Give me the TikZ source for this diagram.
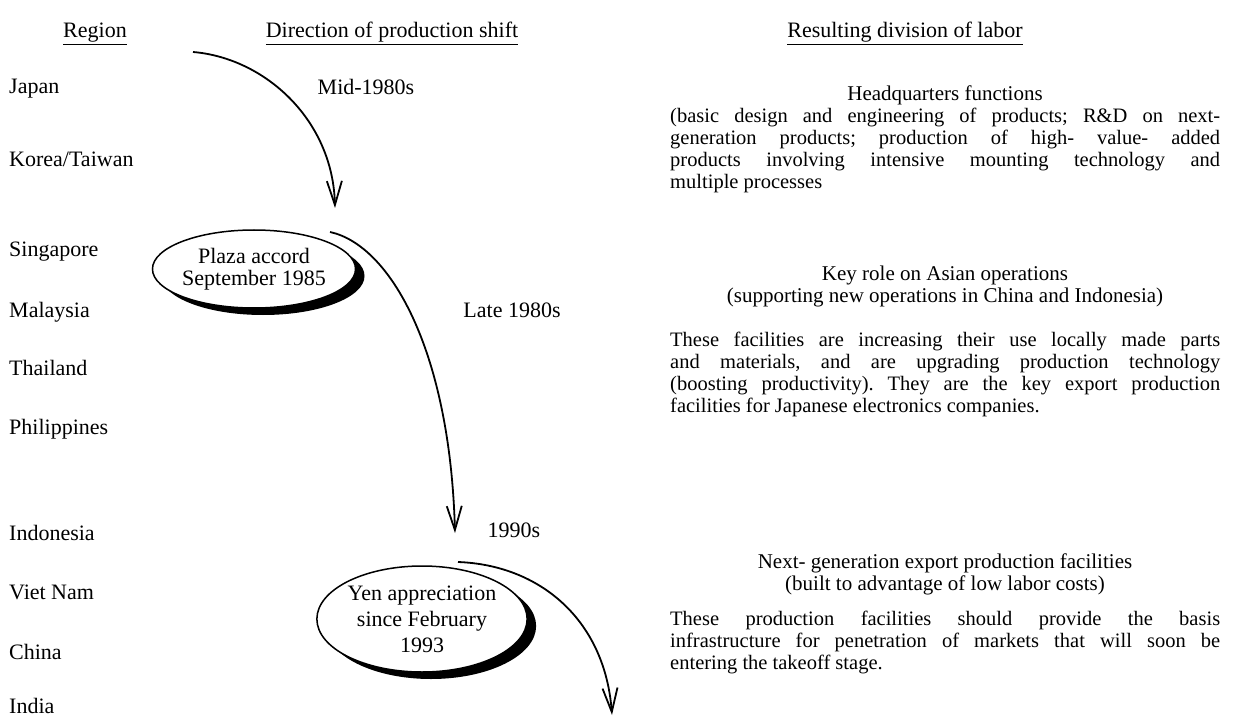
\documentclass[tikz,border=0pt]{standalone}
\usepackage{fontspec}
\setmainfont{Liberation Serif}
\usetikzlibrary{arrows.meta,shapes.geometric,shadows}
\frenchspacing
\newlength\colw
\setlength\colw{550pt}
\newcommand\jline[1]{\makebox[\colw][s]{#1}}
\begin{document}
\begin{tikzpicture}[x=1pt,y=-1pt,
  txt/.style={font=\fontsize{22}{23}\selectfont, inner sep=0pt, anchor=base west},
  ctr/.style={font=\fontsize{22}{23}\selectfont, inner sep=0pt, anchor=base},
  para/.style={font=\fontsize{20.5}{22}\selectfont, inner sep=0pt, anchor=base west},
  parahead/.style={font=\fontsize{21}{22}\selectfont, inner sep=0pt, anchor=base},
  bubble/.style={ellipse, draw, line width=1.5pt, fill=white, inner sep=0pt, align=center,
    font=\fontsize{22}{22}\selectfont,
    drop shadow={shadow xshift=9pt, shadow yshift=-7pt, fill=black, opacity=1}},
  shiftarrow/.style={line width=1.8pt, -{Straight Barb[length=24pt,width=15pt,line width=1.8pt]}}]
\useasboundingbox (0,0) rectangle (1233,719);

% column headers
\node[ctr] (hReg) at (95,38) {\underline{Region}};
\node[ctr] (hDir) at (392,38) {\underline{Direction of production shift}};
\node[ctr] (hRes) at (905,38) {\underline{Resulting division of labor}};

% regions
\node[txt] (japan) at (9,94)  {Japan};
\node[txt] (korea) at (9,167) {Korea/Taiwan};
\node[txt] (sing)  at (9,256) {Singapore};
\node[txt] (malay) at (9,317) {Malaysia};
\node[txt] (thai)  at (9,375) {Thailand};
\node[txt] (phil)  at (9,434) {Philippines};
\node[txt] (indo)  at (9,540) {Indonesia};
\node[txt] (viet)  at (9,599) {Viet Nam};
\node[txt] (china) at (9,659) {China};
\node[txt] (india) at (9,713) {India};

% events
\node[bubble, minimum width=166pt, minimum height=78pt] (plaza) at (254,269)
  {Plaza accord\\September 1985};
\node[bubble, minimum width=198pt, minimum height=106pt,
  font=\fontsize{22}{26}\selectfont] (yen) at (422,619)
  {Yen appreciation\\since February\\1993};

% periods
\node[ctr] (mid80) at (366,95)  {Mid-1980s};
\node[ctr] (late80) at (512,317) {Late 1980s};
\node[ctr] (nineties) at (514,537) {1990s};

% shift arrows
\coordinate (a1s) at (193,52);
\coordinate (a1e) at (335,208);
\coordinate (a2s) at (330,232);
\coordinate (a2e) at (455,533);
\coordinate (a3s) at (458,562);
\coordinate (a3e) at (612,715);
\draw[shiftarrow] (a1s) .. controls (265,58) and (333,120) .. (a1e);
\draw[shiftarrow] (a2s) .. controls (390,245) and (450,350) .. (a2e);
\draw[shiftarrow] (a3s) .. controls (540,565) and (605,620) .. (a3e);

% division of labor
\node[parahead] (hq) at (945,101) {Headquarters functions};
\node[para] (hq1) at (670,123) {\jline{(basic design and engineering of products; R\&D on next-}};
\node[para] (hq2) at (670,145) {\jline{generation products; production of high- value- added}};
\node[para] (hq3) at (670,167) {\jline{products involving intensive mounting technology and}};
\node[para] (hq4) at (670,189) {multiple processes};

\node[parahead] (key) at (945,280) {Key role on Asian operations};
\node[parahead] (key2) at (945,302) {(supporting new operations in China and Indonesia)};
\node[para] (kp1) at (670,346) {\jline{These facilities are increasing their use locally made parts}};
\node[para] (kp2) at (670,368) {\jline{and materials, and are upgrading production technology}};
\node[para] (kp3) at (670,390) {\jline{(boosting productivity). They are the key export production}};
\node[para] (kp4) at (670,412) {facilities for Japanese electronics companies.};

\node[parahead] (nx) at (945,568) {Next- generation export production facilities};
\node[parahead] (nx2) at (945,590) {(built to advantage of low labor costs)};
\node[para] (np1) at (670,625) {\jline{These production facilities should provide the basis}};
\node[para] (np2) at (670,647) {\jline{infrastructure for penetration of markets that will soon be}};
\node[para] (np3) at (670,669) {entering the takeoff stage.};
\end{tikzpicture}
\end{document}
